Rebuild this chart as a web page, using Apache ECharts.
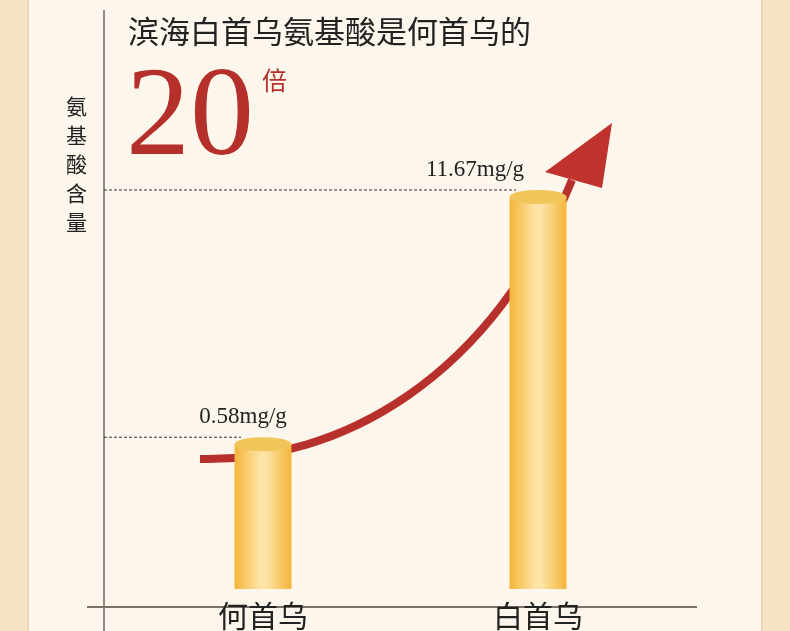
<!DOCTYPE html>
<html lang="zh">
<head>
<meta charset="UTF-8">
<title>氨基酸含量</title>
<script src="https://cdn.jsdelivr.net/npm/echarts@6/dist/echarts.min.js"></script>
<style>
  html, body { margin: 0; padding: 0; background: #fcf6ec; }
  #main { width: 790px; height: 631px; }
</style>
</head>
<body>
<div id="main"></div>
<script>
  const categories = ['何首乌', '白首乌'];
  const values = [0.58, 11.67];
  const valueLabels = ['0.58mg/g', '11.67mg/g'];
  const labelShift = [-20, -63];
  const axisBase = 0.1;

  let chart = echarts.init(document.getElementById('main'));
  const serif = '"Liberation Serif", "DejaVu Serif", serif';
  const cjk = '"Noto Sans CJK SC", sans-serif';

  function barGrad() {
    return new echarts.graphic.LinearGradient(0, 0, 1, 0, [
      { offset: 0, color: '#f4b53a' },
      { offset: 0.45, color: '#fde4a6' },
      { offset: 0.55, color: '#fde4a6' },
      { offset: 1, color: '#f4b53a' }
    ]);
  }

  let option = {
    backgroundColor: '#fcf6ec',
    grid: { left: 125.5, right: 114.5, top: 10, bottom: 24 },
    xAxis: {
      type: 'category',
      data: categories,
      axisLine: { show: false },
      axisTick: { show: false },
      axisLabel: { margin: 12, fontSize: 30, color: '#222', fontFamily: cjk }
    },
    yAxis: {
      type: 'log',
      logBase: 10,
      min: 0.1,
      max: 113,
      axisLine: { show: false },
      axisTick: { show: false },
      axisLabel: { show: false },
      splitLine: { show: false }
    },
    series: [{
      type: 'custom',
      data: values.map((v, i) => [i, v]),
      z: 3,
      renderItem: function (params, api) {
        let i = api.value(0);
        let top = api.coord([i, api.value(1)]);
        let base = api.coord([i, axisBase]);
        let w = 57;
        return {
          type: 'group',
          children: [
            { type: 'rect', shape: { x: top[0] - w / 2, y: top[1], width: w, height: base[1] - top[1] },
              style: { fill: barGrad() } },
            { type: 'ellipse', shape: { cx: top[0], cy: top[1], rx: w / 2, ry: 7 },
              style: { fill: '#f0c65a' } },
            { type: 'line', shape: { x1: 104, y1: top[1] - 7, x2: top[0] - 22, y2: top[1] - 7 },
              style: { stroke: '#333', lineWidth: 1, lineDash: [3, 2] } },
            { type: 'text', x: top[0] + labelShift[params.dataIndex], y: top[1] - 16,
              style: { text: valueLabels[params.dataIndex], font: '23px ' + serif, fill: '#222',
                align: 'center', verticalAlign: 'bottom' } }
          ]
        };
      }
    }]
  };
  chart.setOption(option);

  chart.setOption({
    graphic: [
      { type: 'rect', z: -10, silent: true, shape: { x: 0, y: 0, width: 790, height: 631 },
        style: { fill: '#f6e2c4' } },
      { type: 'rect', z: -9, silent: true, shape: { x: 28, y: -2, width: 734, height: 640 },
        style: { fill: '#fcf6ec', stroke: '#edd6b4', lineWidth: 2 } },
      { type: 'line', shape: { x1: 104, y1: 10, x2: 104, y2: 631 }, style: { stroke: '#222', lineWidth: 1 } },
      { type: 'line', shape: { x1: 87, y1: 607, x2: 697, y2: 607 }, style: { stroke: '#7a7266', lineWidth: 2 } },
      { type: 'bezierCurve', z: 2,
        shape: { x1: 200, y1: 459, x2: 572, y2: 180, cpx1: 340, cpy1: 462, cpx2: 490, cpy2: 380 },
        style: { stroke: '#b8302b', lineWidth: 8, fill: null } },
      { type: 'polygon', z: 2,
        shape: { points: [[612, 123], [545, 172], [602, 188]] },
        style: { fill: '#c0322c' } },
      { type: 'text', left: 128, top: 16,
        style: { text: '滨海白首乌氨基酸是何首乌的', fill: '#222', font: '31px ' + cjk } },
      { type: 'text', left: 126, top: 56,
        style: { text: '20', fill: '#b5302a', font: '128px ' + serif } },
      { type: 'text', left: 262, top: 68,
        style: { text: '倍', fill: '#b5302a', font: '25px ' + cjk } },
      { type: 'text', left: 66, top: 92,
        style: { text: '氨\n基\n酸\n含\n量', fill: '#222', font: '21px ' + cjk, lineHeight: 29 } }
    ]
  });
</script>
</body>
</html>
